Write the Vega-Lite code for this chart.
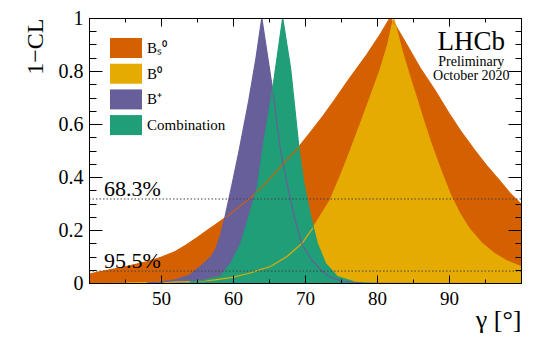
{
  "$schema": "https://vega.github.io/schema/vega-lite/v6.json",
  "width": 432,
  "height": 265,
  "autosize": "none",
  "padding": {"left": 89, "top": 18, "right": 19, "bottom": 54},
  "background": "white",
  "config": {
    "view": {"stroke": "#000", "strokeWidth": 1},
    "font": "Liberation Serif",
    "text": {"font": "Liberation Serif"},
    "axis": {"labelFont": "Liberation Serif", "titleFont": "Liberation Serif"},
    "legend": {"labelFont": "Liberation Serif", "titleFont": "Liberation Serif"}
  },
  "datasets": {
    "curves": [
      {"series": "Bₛ⁰", "x": 40, "y": 0.034},
      {"series": "Bₛ⁰", "x": 42, "y": 0.045},
      {"series": "Bₛ⁰", "x": 45, "y": 0.061},
      {"series": "Bₛ⁰", "x": 48, "y": 0.08},
      {"series": "Bₛ⁰", "x": 50, "y": 0.097},
      {"series": "Bₛ⁰", "x": 52, "y": 0.119},
      {"series": "Bₛ⁰", "x": 53.5, "y": 0.143},
      {"series": "Bₛ⁰", "x": 55, "y": 0.171},
      {"series": "Bₛ⁰", "x": 56.5, "y": 0.2},
      {"series": "Bₛ⁰", "x": 58, "y": 0.228},
      {"series": "Bₛ⁰", "x": 59.5, "y": 0.258},
      {"series": "Bₛ⁰", "x": 61, "y": 0.29},
      {"series": "Bₛ⁰", "x": 62.5, "y": 0.323},
      {"series": "Bₛ⁰", "x": 64.5, "y": 0.375},
      {"series": "Bₛ⁰", "x": 66.6, "y": 0.439},
      {"series": "Bₛ⁰", "x": 68.9, "y": 0.505},
      {"series": "Bₛ⁰", "x": 70.8, "y": 0.57},
      {"series": "Bₛ⁰", "x": 72.5, "y": 0.63},
      {"series": "Bₛ⁰", "x": 74, "y": 0.686},
      {"series": "Bₛ⁰", "x": 76, "y": 0.765},
      {"series": "Bₛ⁰", "x": 78.6, "y": 0.862},
      {"series": "Bₛ⁰", "x": 80.5, "y": 0.94},
      {"series": "Bₛ⁰", "x": 81.8, "y": 1.0},
      {"series": "Bₛ⁰", "x": 82.5, "y": 0.975},
      {"series": "Bₛ⁰", "x": 84, "y": 0.905},
      {"series": "Bₛ⁰", "x": 86, "y": 0.811},
      {"series": "Bₛ⁰", "x": 88.1, "y": 0.725},
      {"series": "Bₛ⁰", "x": 90, "y": 0.64},
      {"series": "Bₛ⁰", "x": 91.6, "y": 0.574},
      {"series": "Bₛ⁰", "x": 93.5, "y": 0.503},
      {"series": "Bₛ⁰", "x": 95.2, "y": 0.444},
      {"series": "Bₛ⁰", "x": 97, "y": 0.387},
      {"series": "Bₛ⁰", "x": 98.5, "y": 0.338},
      {"series": "Bₛ⁰", "x": 100, "y": 0.298},

      {"series": "B⁰", "x": 40, "y": 0},
      {"series": "B⁰", "x": 45, "y": 0.001},
      {"series": "B⁰", "x": 50, "y": 0.002},
      {"series": "B⁰", "x": 55, "y": 0.006},
      {"series": "B⁰", "x": 57.5, "y": 0.012},
      {"series": "B⁰", "x": 59.7, "y": 0.02},
      {"series": "B⁰", "x": 62, "y": 0.035},
      {"series": "B⁰", "x": 65.2, "y": 0.062},
      {"series": "B⁰", "x": 67.5, "y": 0.1},
      {"series": "B⁰", "x": 69.6, "y": 0.15},
      {"series": "B⁰", "x": 71.2, "y": 0.212},
      {"series": "B⁰", "x": 73.5, "y": 0.313},
      {"series": "B⁰", "x": 75, "y": 0.41},
      {"series": "B⁰", "x": 76.3, "y": 0.5},
      {"series": "B⁰", "x": 78.5, "y": 0.66},
      {"series": "B⁰", "x": 80.5, "y": 0.81},
      {"series": "B⁰", "x": 81.5, "y": 0.9},
      {"series": "B⁰", "x": 82.3, "y": 1.0},
      {"series": "B⁰", "x": 83.5, "y": 0.875},
      {"series": "B⁰", "x": 84.6, "y": 0.775},
      {"series": "B⁰", "x": 85.6, "y": 0.69},
      {"series": "B⁰", "x": 86.5, "y": 0.61},
      {"series": "B⁰", "x": 87.4, "y": 0.535},
      {"series": "B⁰", "x": 88.8, "y": 0.43},
      {"series": "B⁰", "x": 90.2, "y": 0.333},
      {"series": "B⁰", "x": 91.5, "y": 0.262},
      {"series": "B⁰", "x": 92.9, "y": 0.202},
      {"series": "B⁰", "x": 94.5, "y": 0.152},
      {"series": "B⁰", "x": 96.2, "y": 0.113},
      {"series": "B⁰", "x": 98, "y": 0.084},
      {"series": "B⁰", "x": 100, "y": 0.062},

      {"series": "B⁺", "x": 40, "y": 0},
      {"series": "B⁺", "x": 48, "y": 0.001},
      {"series": "B⁺", "x": 50, "y": 0.003},
      {"series": "B⁺", "x": 52, "y": 0.012},
      {"series": "B⁺", "x": 54, "y": 0.03},
      {"series": "B⁺", "x": 55.8, "y": 0.07},
      {"series": "B⁺", "x": 57, "y": 0.1},
      {"series": "B⁺", "x": 57.6, "y": 0.128},
      {"series": "B⁺", "x": 58.2, "y": 0.175},
      {"series": "B⁺", "x": 58.8, "y": 0.238},
      {"series": "B⁺", "x": 59.9, "y": 0.376},
      {"series": "B⁺", "x": 60.85, "y": 0.5},
      {"series": "B⁺", "x": 62.2, "y": 0.69},
      {"series": "B⁺", "x": 63.2, "y": 0.85},
      {"series": "B⁺", "x": 64.0, "y": 1.0},
      {"series": "B⁺", "x": 65.5, "y": 0.73},
      {"series": "B⁺", "x": 66.6, "y": 0.5},
      {"series": "B⁺", "x": 67.5, "y": 0.376},
      {"series": "B⁺", "x": 68.5, "y": 0.25},
      {"series": "B⁺", "x": 69.6, "y": 0.145},
      {"series": "B⁺", "x": 70.8, "y": 0.092},
      {"series": "B⁺", "x": 72.2, "y": 0.049},
      {"series": "B⁺", "x": 73.5, "y": 0.022},
      {"series": "B⁺", "x": 75.4, "y": 0.005},
      {"series": "B⁺", "x": 78, "y": 0.001},
      {"series": "B⁺", "x": 100, "y": 0},

      {"series": "Combination", "x": 40, "y": 0},
      {"series": "Combination", "x": 50, "y": 0.0},
      {"series": "Combination", "x": 54, "y": 0.004},
      {"series": "Combination", "x": 56, "y": 0.01},
      {"series": "Combination", "x": 58.3, "y": 0.026},
      {"series": "Combination", "x": 59.7, "y": 0.074},
      {"series": "Combination", "x": 61.1, "y": 0.15},
      {"series": "Combination", "x": 62.2, "y": 0.25},
      {"series": "Combination", "x": 63.4, "y": 0.363},
      {"series": "Combination", "x": 64.1, "y": 0.5},
      {"series": "Combination", "x": 65.5, "y": 0.73},
      {"series": "Combination", "x": 66.9, "y": 1.0},
      {"series": "Combination", "x": 68.0, "y": 0.81},
      {"series": "Combination", "x": 69.2, "y": 0.5},
      {"series": "Combination", "x": 69.85, "y": 0.376},
      {"series": "Combination", "x": 70.8, "y": 0.25},
      {"series": "Combination", "x": 71.7, "y": 0.15},
      {"series": "Combination", "x": 72.85, "y": 0.074},
      {"series": "Combination", "x": 74.5, "y": 0.024},
      {"series": "Combination", "x": 76.7, "y": 0.005},
      {"series": "Combination", "x": 80, "y": 0},
      {"series": "Combination", "x": 100, "y": 0}
    ],
    "levels": [
      {"level": 0.317, "label": "68.3%"},
      {"level": 0.045, "label": "95.5%"}
    ],
    "tag": [{"experiment": "LHCb", "note": ["Preliminary", "October 2020"]}]
  },
  "resolve": {"axis": {"x": "independent", "y": "independent"}},
  "layer": [
    {
      "data": {"name": "curves"},
      "transform": [{"filter": "datum.series === 'Bₛ⁰'"}],
      "mark": {"type": "area", "clip": true},
      "encoding": {
        "x": {"field": "x", "type": "quantitative", "scale": {"domain": [40, 100], "nice": false, "zero": false},
          "axis": {"orient": "bottom", "values": [45, 50, 55, 60, 65, 70, 75, 80, 85, 90, 95],
            "labelExpr": "datum.value % 10 === 0 ? format(datum.value, 'd') : ''",
            "tickSize": {"condition": {"test": "datum.value % 10 === 0", "value": -8}, "value": -4},
            "tickColor": "#000", "domainColor": "#000", "labelColor": "#000", "labelFontSize": 19, "labelFont": "Liberation Serif",
            "labelPadding": 14, "labelFlush": false, "labelOverlap": false, "grid": false, "zindex": 1,
            "title": "γ [°]", "titleFont": "Liberation Serif", "titleFontSize": 26, "titleFontWeight": "normal", "titleColor": "#000",
            "titleAnchor": "end", "titleAlign": "right", "titleX": 432, "titleY": 44, "titleBaseline": "alphabetic"}},
        "y": {"field": "y", "type": "quantitative", "scale": {"domain": [0, 1], "nice": false},
          "axis": {"orient": "left", "values": [0, 0.05, 0.1, 0.15, 0.2, 0.25, 0.3, 0.35, 0.4, 0.45, 0.5, 0.55, 0.6, 0.65, 0.7, 0.75, 0.8, 0.85, 0.9, 0.95, 1],
            "labelExpr": "round(datum.value * 100) % 20 === 0 ? format(datum.value, '~g') : ''",
            "tickSize": {"condition": {"test": "round(datum.value * 100) % 20 === 0", "value": -13}, "value": -7},
            "tickColor": "#000", "domainColor": "#000", "labelColor": "#000", "labelFontSize": 20, "labelFont": "Liberation Serif",
            "labelPadding": 19, "labelFlush": false, "labelOverlap": false, "grid": false, "zindex": 1,
            "title": "1−CL", "titleFont": "Liberation Serif", "titleFontSize": 24, "titleFontWeight": "normal", "titleColor": "#000",
            "titleAngle": -90, "titleAlign": "right", "titleBaseline": "alphabetic", "titleX": -47, "titleY": 0}},
        "color": {"field": "series", "type": "nominal",
          "scale": {"domain": ["Bₛ⁰", "B⁰", "B⁺", "Combination"], "range": ["#d56000", "#e5ab00", "#675f99", "#1f9e78"]},
          "legend": {"orient": "none", "legendX": 27, "legendY": 20, "title": null, "padding": 0,
            "symbolType": "M-1.6,-1H1.6V1H-1.6Z", "symbolSize": 400, "symbolStrokeWidth": 0, "symbolOpacity": 1,
            "labelFont": "Liberation Serif", "labelFontSize": 15, "labelColor": "#000", "labelOffset": 11, "rowPadding": 5.7}},
        "opacity": {"value": 1}
      }
    },
    {
      "data": {"name": "curves"},
      "transform": [{"filter": "datum.series === 'B⁰'"}],
      "mark": {"type": "area", "clip": true},
      "encoding": {
        "x": {"field": "x", "type": "quantitative",
          "axis": {"orient": "top", "values": [45, 50, 55, 60, 65, 70, 75, 80, 85, 90, 95], "labels": false,
            "tickSize": {"condition": {"test": "datum.value % 10 === 0", "value": -8}, "value": -4},
            "tickColor": "#000", "domainColor": "#000", "grid": false, "zindex": 1, "title": null}},
        "y": {"field": "y", "type": "quantitative",
          "axis": {"orient": "right", "values": [0, 0.05, 0.1, 0.15, 0.2, 0.25, 0.3, 0.35, 0.4, 0.45, 0.5, 0.55, 0.6, 0.65, 0.7, 0.75, 0.8, 0.85, 0.9, 0.95, 1], "labels": false,
            "tickSize": {"condition": {"test": "round(datum.value * 100) % 20 === 0", "value": -13}, "value": -6},
            "tickColor": "#000", "domainColor": "#000", "grid": false, "zindex": 1, "title": null}},
        "color": {"field": "series", "type": "nominal"}
      }
    },
    {
      "data": {"name": "curves"},
      "transform": [{"filter": "datum.series === 'B⁺'"}],
      "mark": {"type": "area", "clip": true},
      "encoding": {
        "x": {"field": "x", "type": "quantitative", "axis": null},
        "y": {"field": "y", "type": "quantitative", "axis": null},
        "color": {"field": "series", "type": "nominal"}
      }
    },
    {
      "data": {"name": "curves"},
      "transform": [{"filter": "datum.series === 'Combination'"}],
      "mark": {"type": "area", "clip": true},
      "encoding": {
        "x": {"field": "x", "type": "quantitative", "axis": null},
        "y": {"field": "y", "type": "quantitative", "axis": null},
        "color": {"field": "series", "type": "nominal"}
      }
    },
    {
      "data": {"name": "curves"},
      "transform": [{"filter": "datum.y > 0.0005"}],
      "mark": {"type": "line", "clip": true, "strokeWidth": 1.2},
      "encoding": {
        "x": {"field": "x", "type": "quantitative", "axis": null},
        "y": {"field": "y", "type": "quantitative", "axis": null},
        "color": {"field": "series", "type": "nominal"}
      }
    },
    {
      "data": {"name": "levels"},
      "mark": {"type": "rule", "color": "#444", "strokeWidth": 1, "strokeDash": [1.5, 2]},
      "encoding": {
        "y": {"field": "level", "type": "quantitative", "axis": null}
      }
    },
    {
      "data": {"name": "levels"},
      "mark": {"type": "text", "align": "left", "baseline": "alphabetic", "dy": -3, "fontSize": 22, "font": "Liberation Serif", "color": "#000"},
      "encoding": {
        "x": {"datum": 42.1, "type": "quantitative", "axis": null},
        "y": {"field": "level", "type": "quantitative", "axis": null},
        "text": {"field": "label"}
      }
    },
    {
      "data": {"name": "tag"},
      "mark": {"type": "text", "align": "center", "baseline": "alphabetic", "fontSize": 27, "font": "Liberation Serif", "color": "#000"},
      "encoding": {
        "x": {"datum": 93.1, "type": "quantitative", "axis": null},
        "y": {"datum": 0.878, "type": "quantitative", "axis": null},
        "text": {"field": "experiment"}
      }
    },
    {
      "data": {"name": "tag"},
      "mark": {"type": "text", "align": "center", "baseline": "alphabetic", "fontSize": 14, "lineHeight": 13.5, "font": "Liberation Serif", "color": "#000"},
      "encoding": {
        "x": {"datum": 93.1, "type": "quantitative", "axis": null},
        "y": {"datum": 0.817, "type": "quantitative", "axis": null},
        "text": {"field": "note"}
      }
    }
  ]
}
